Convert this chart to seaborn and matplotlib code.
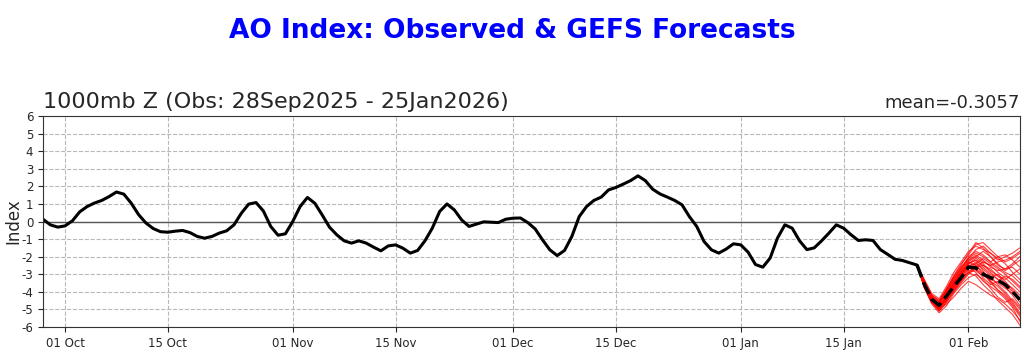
import numpy as np
import pandas as pd
import seaborn as sns
import matplotlib.pyplot as plt
import matplotlib.dates as mdates

# observed AO index, daily from 28 Sep 2025 to 25 Jan 2026
obs_start = '2025-09-28'
obs_values = [
    0.13, -0.19, -0.32, -0.25, 0.04, 0.55, 0.85, 1.05, 1.2, 1.42,
    1.68, 1.56, 1.05, 0.4, -0.08, -0.4, -0.58, -0.61, -0.55, -0.51,
    -0.63, -0.85, -0.95, -0.85, -0.66, -0.53, -0.19, 0.47, 0.99, 1.08,
    0.6, -0.28, -0.78, -0.7, 0.0, 0.85, 1.37, 1.04, 0.38, -0.32,
    -0.76, -1.1, -1.23, -1.1, -1.23, -1.46, -1.67, -1.39, -1.33, -1.52,
    -1.8, -1.65, -1.1, -0.38, 0.57, 1.0, 0.66, 0.09, -0.28, -0.15,
    -0.02, -0.04, -0.06, 0.13, 0.19, 0.2, -0.06, -0.42, -1.04, -1.61,
    -1.94, -1.65, -0.85, 0.28, 0.85, 1.2, 1.39, 1.8, 1.94, 2.13,
    2.33, 2.6, 2.33, 1.84, 1.57, 1.39, 1.2, 0.95, 0.28, -0.28,
    -1.14, -1.61, -1.8, -1.57, -1.27, -1.33, -1.75, -2.45, -2.6, -2.08,
    -0.94, -0.19, -0.38, -1.1, -1.6, -1.5, -1.1, -0.66, -0.19, -0.38,
    -0.75, -1.08, -1.04, -1.08, -1.6, -1.87, -2.15, -2.22, -2.35, -2.48,
]

# GEFS forecasts, daily from 25 Jan 2026 to 08 Feb 2026
fc_start = '2026-01-25'
fc_mean = [-2.48, -3.6, -4.43, -4.77, -4.25, -3.7, -3.2, -2.6, -2.64, -3.0,
           -3.2, -3.35, -3.6, -4.0, -4.45]
members = [
    [-2.48, -3.5, -4.3, -4.7, -4.0, -3.3, -2.7, -2.1, -1.6, -1.4, -1.8, -2.2, -2.0, -1.8, -1.5],
    [-2.48, -3.7, -4.5, -4.9, -4.3, -3.6, -3.0, -2.4, -2.2, -2.6, -3.0, -3.3, -3.6, -4.0, -4.6],
    [-2.48, -3.6, -4.4, -4.8, -4.4, -3.9, -3.4, -2.9, -3.1, -3.6, -4.0, -4.5, -4.9, -5.3, -5.9],
    [-2.48, -3.4, -4.2, -4.5, -3.8, -3.1, -2.5, -1.8, -1.2, -1.5, -2.0, -2.4, -2.8, -2.5, -2.2],
    [-2.48, -3.8, -4.6, -5.1, -4.6, -4.0, -3.5, -3.0, -2.6, -2.3, -2.5, -2.9, -3.2, -3.6, -4.0],
    [-2.48, -3.5, -4.4, -4.7, -4.1, -3.4, -2.9, -2.5, -2.7, -3.2, -3.6, -3.4, -3.1, -3.3, -3.7],
    [-2.48, -3.6, -4.5, -5.0, -4.5, -3.7, -3.0, -2.6, -2.3, -2.8, -3.4, -3.9, -4.3, -4.8, -5.4],
    [-2.48, -3.3, -4.1, -4.4, -3.7, -2.9, -2.3, -1.7, -1.4, -1.6, -1.8, -2.1, -2.4, -2.9, -3.3],
    [-2.48, -3.7, -4.6, -5.0, -4.7, -4.3, -3.8, -3.4, -3.6, -3.9, -4.2, -4.4, -4.7, -5.1, -5.6],
    [-2.48, -3.5, -4.3, -4.6, -3.9, -3.2, -2.6, -2.2, -1.9, -2.2, -2.6, -2.8, -2.7, -2.4, -2.0],
    [-2.48, -3.6, -4.5, -4.9, -4.2, -3.5, -2.8, -2.3, -2.5, -3.0, -3.2, -3.0, -3.4, -3.9, -4.4],
    [-2.48, -3.4, -4.3, -4.8, -4.4, -3.8, -3.2, -2.7, -2.4, -2.1, -2.4, -2.7, -3.0, -3.4, -3.8],
    [-2.48, -3.8, -4.7, -5.2, -4.8, -4.1, -3.6, -3.2, -3.0, -3.3, -3.8, -4.3, -4.6, -4.4, -4.9],
    [-2.48, -3.5, -4.4, -4.6, -4.0, -3.3, -2.7, -2.0, -1.7, -1.9, -2.3, -2.0, -1.9, -2.2, -2.6],
    [-2.48, -3.6, -4.4, -4.8, -4.3, -3.6, -2.9, -2.4, -2.1, -2.4, -2.9, -3.3, -3.7, -4.2, -4.8],
    [-2.48, -3.7, -4.5, -4.9, -4.5, -3.9, -3.3, -2.8, -2.7, -3.0, -3.4, -3.7, -4.1, -4.6, -5.2],
    [-2.48, -3.4, -4.2, -4.6, -3.9, -3.2, -2.6, -2.1, -1.8, -2.0, -2.3, -2.6, -2.9, -3.1, -3.5],
    [-2.48, -3.6, -4.5, -4.9, -4.3, -3.7, -3.1, -2.6, -2.9, -3.4, -3.7, -4.0, -4.4, -4.9, -5.7],
    [-2.48, -3.5, -4.4, -4.8, -4.2, -3.5, -2.9, -2.3, -2.0, -1.7, -2.0, -2.5, -2.7, -2.6, -3.0],
    [-2.48, -3.7, -4.6, -5.0, -4.4, -3.8, -3.2, -2.9, -2.6, -2.5, -2.7, -3.1, -3.5, -3.8, -4.2],
    [-2.48, -3.5, -4.2, -4.5, -3.9, -3.1, -2.4, -1.9, -1.3, -1.2, -1.6, -2.0, -2.3, -2.1, -1.8],
    [-2.48, -3.6, -4.5, -4.9, -4.4, -3.6, -3.0, -2.5, -2.4, -2.7, -3.1, -3.6, -4.0, -4.5, -5.0],
    [-2.48, -3.7, -4.6, -5.1, -4.6, -4.0, -3.4, -2.9, -2.8, -3.1, -3.3, -3.5, -3.8, -4.1, -4.4],
    [-2.48, -3.4, -4.3, -4.7, -4.0, -3.4, -2.8, -2.2, -2.0, -2.3, -2.5, -2.3, -2.2, -2.0, -1.7],
    [-2.48, -3.6, -4.4, -4.9, -4.5, -3.8, -3.1, -2.7, -2.5, -2.9, -3.5, -3.9, -4.2, -4.7, -5.3],
    [-2.48, -3.5, -4.4, -4.7, -4.1, -3.5, -3.0, -2.4, -2.2, -2.5, -2.8, -3.1, -3.3, -3.0, -2.7],
]

obs = pd.DataFrame({'date': pd.date_range(obs_start, periods=len(obs_values), freq='D'),
                    'index': obs_values})
fc_dates = pd.date_range(fc_start, periods=len(fc_mean), freq='D')
ens = pd.DataFrame([{'date': d, 'index': v, 'member': i}
                    for i, m in enumerate(members) for d, v in zip(fc_dates, m)])
mean_df = pd.DataFrame({'date': fc_dates, 'index': fc_mean})

sns.set_style('white')
plt.rcParams['axes.unicode_minus'] = False
fig = plt.figure(figsize=(10.24, 3.53), dpi=100)
ax = fig.add_axes([0.042, 0.074, 0.954, 0.597])

ax.grid(True, ls='--', color='#b8b8b8', lw=0.8)
ax.axhline(0, color='#555555', lw=1, zorder=1)

sns.lineplot(data=ens, x='date', y='index', units='member', estimator=None,
             color='red', lw=0.8, alpha=0.75, ax=ax)
sns.lineplot(data=obs, x='date', y='index', color='black', lw=2.2, ax=ax)
sns.lineplot(data=mean_df, x='date', y='index', color='black', lw=2.5, ls='--', ax=ax)

ax.set_xlim(pd.Timestamp('2025-09-28'), pd.Timestamp('2026-02-08'))
ax.set_ylim(-6, 6)
ax.set_yticks(range(-6, 7))
ax.xaxis.set_major_locator(mdates.DayLocator(bymonthday=[1, 15]))
ax.xaxis.set_major_formatter(mdates.DateFormatter('%d %b'))
ax.tick_params(axis='both', labelsize=8.5, length=3.5, left=True, bottom=True)
for s in ax.spines.values():
    s.set_color('#333333')

ax.set_xlabel('')
ax.set_ylabel('Index', fontsize=12)
ax.yaxis.set_label_coords(-0.0215, 0.5)
ax.set_title('1000mb Z (Obs: 28Sep2025 - 25Jan2026)', loc='left', fontsize=16)
ax.set_title('mean=-0.3057', loc='right', fontsize=13)
fig.suptitle('AO Index: Observed & GEFS Forecasts', color='blue', fontsize=19,
             fontweight='bold', y=0.95)

fig.savefig('out.png', dpi=100)
